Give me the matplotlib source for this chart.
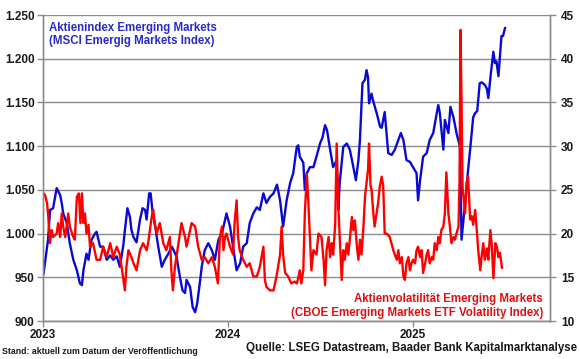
import matplotlib
matplotlib.use("Agg")
import matplotlib.pyplot as plt
import matplotlib.dates as mdates
from matplotlib.ticker import FuncFormatter, MultipleLocator
import pandas as pd

plt.rcParams['font.family'] = ['Liberation Sans', 'DejaVu Sans']

# --- data: MSCI Emerging Markets index (left axis) ---
msci_dates = [
    "2023-01-02","2023-01-09","2023-01-11","2023-01-15","2023-01-21","2023-01-28","2023-02-04","2023-02-07",
    "2023-02-10","2023-02-17","2023-02-23","2023-03-02","2023-03-09","2023-03-15","2023-03-19","2023-03-22",
    "2023-03-28","2023-04-01","2023-04-07","2023-04-14","2023-04-17","2023-04-24","2023-04-30","2023-05-07",
    "2023-05-14","2023-05-20","2023-05-27","2023-06-02","2023-06-09","2023-06-12","2023-06-17","2023-06-22",
    "2023-06-25","2023-06-29","2023-07-05","2023-07-12","2023-07-17","2023-07-22","2023-07-25","2023-07-30",
    "2023-08-02","2023-08-06","2023-08-11","2023-08-17","2023-08-24","2023-08-30","2023-09-06","2023-09-13",
    "2023-09-22","2023-09-29","2023-10-04","2023-10-09","2023-10-12","2023-10-19","2023-10-24","2023-10-29",
    "2023-11-02","2023-11-08","2023-11-11","2023-11-17","2023-11-24","2023-12-01","2023-12-07","2023-12-14",
    "2023-12-21","2023-12-30","2024-01-06","2024-01-12","2024-01-19","2024-01-26","2024-02-01","2024-02-08",
    "2024-02-14","2024-02-21","2024-02-28","2024-03-05","2024-03-12","2024-03-18","2024-03-25","2024-04-01",
    "2024-04-08","2024-04-14","2024-04-20","2024-04-27","2024-05-04","2024-05-10","2024-05-17","2024-05-20",
    "2024-05-23","2024-05-30","2024-06-02","2024-06-06","2024-06-12","2024-06-19","2024-06-25","2024-07-02",
    "2024-07-07","2024-07-12","2024-07-16","2024-07-22","2024-07-28","2024-08-04","2024-08-07","2024-08-10",
    "2024-08-17","2024-08-24","2024-08-30","2024-09-06","2024-09-11","2024-09-16","2024-09-19","2024-09-24",
    "2024-09-29","2024-10-02","2024-10-05","2024-10-07","2024-10-12","2024-10-15","2024-10-22","2024-10-29",
    "2024-11-01","2024-11-07","2024-11-14","2024-11-21","2024-11-27","2024-12-04","2024-12-09","2024-12-14",
    "2024-12-20","2024-12-27","2025-01-02","2025-01-09","2025-01-12","2025-01-16","2025-01-22","2025-01-29",
    "2025-02-04","2025-02-11","2025-02-18","2025-02-21","2025-02-24","2025-03-03","2025-03-06","2025-03-13",
    "2025-03-17","2025-03-23","2025-03-29","2025-04-05","2025-04-08","2025-04-15","2025-04-21","2025-04-25",
    "2025-05-01","2025-05-05","2025-05-09","2025-05-14","2025-05-18","2025-05-24","2025-05-28","2025-05-31",
    "2025-06-05","2025-06-10","2025-06-13","2025-06-16","2025-06-20","2025-06-23","2025-06-26","2025-06-29",
    "2025-07-03",
]
msci_values = [
    954, 985, 993, 1027, 1029, 1052, 1044, 1035,
    1023, 1012, 989, 970, 958, 943, 941, 958,
    977, 970, 993, 1000, 1002, 985, 985, 970,
    975, 970, 974, 962, 987, 1004, 1029, 1019,
    1004, 996, 990, 1016, 1029, 1027, 1016, 1046,
    1046, 1023, 1008, 985, 962, 970, 977, 985,
    974, 950, 935, 932, 947, 939, 916, 910,
    920, 947, 962, 981, 989, 981, 970, 993,
    1000, 1023, 1008, 985, 958, 966, 985, 989,
    1012, 1023, 1030, 1027, 1046, 1035, 1042, 1046,
    1056, 1038, 1008, 1038, 1058, 1069, 1099, 1101,
    1088, 1081, 1050, 1069, 1076, 1076, 1088, 1103,
    1110, 1124, 1118, 1096, 1076, 1084, 1027, 1058,
    1099, 1103, 1096, 1076, 1061, 1084, 1107, 1172,
    1176, 1187, 1179, 1149, 1160, 1152, 1138, 1122,
    1121, 1139, 1092, 1090, 1096, 1107, 1115, 1107,
    1084, 1082, 1076, 1069, 1038, 1061, 1088, 1092,
    1107, 1115, 1138, 1147, 1138, 1096, 1130, 1115,
    1145, 1133, 1115, 1099, 993, 1035, 1073, 1096,
    1133, 1138, 1140, 1172, 1173, 1170, 1166, 1155,
    1183, 1208, 1195, 1197, 1180, 1203, 1226, 1226,
    1235,
]

# --- data: CBOE Emerging Markets ETF Volatility Index (right axis) ---
vol_dates = [
    "2023-01-02","2023-01-05","2023-01-09","2023-01-11","2023-01-15","2023-01-18","2023-01-21","2023-01-28",
    "2023-01-31","2023-02-04","2023-02-07","2023-02-10","2023-02-14","2023-02-20","2023-02-23","2023-03-02",
    "2023-03-05","2023-03-09","2023-03-13","2023-03-16","2023-03-19","2023-03-22","2023-03-25","2023-03-28",
    "2023-04-01","2023-04-04","2023-04-10","2023-04-17","2023-04-24","2023-04-30","2023-05-07","2023-05-14",
    "2023-05-20","2023-05-27","2023-06-02","2023-06-09","2023-06-12","2023-06-15","2023-06-19","2023-06-25",
    "2023-06-29","2023-07-05","2023-07-12","2023-07-18","2023-07-25","2023-07-28","2023-08-04","2023-08-07",
    "2023-08-10","2023-08-14","2023-08-20","2023-08-27","2023-09-02","2023-09-09","2023-09-12","2023-09-15",
    "2023-09-19","2023-09-25","2023-10-02","2023-10-09","2023-10-12","2023-10-15","2023-10-22","2023-10-29",
    "2023-11-04","2023-11-11","2023-11-17","2023-11-24","2023-12-01","2023-12-07","2023-12-13","2023-12-17",
    "2023-12-21","2023-12-24","2023-12-27","2023-12-30","2024-01-06","2024-01-12","2024-01-15","2024-01-19",
    "2024-01-22","2024-01-25","2024-02-01","2024-02-08","2024-02-14","2024-02-21","2024-02-28","2024-03-05",
    "2024-03-12","2024-03-15","2024-03-18","2024-03-25","2024-04-01","2024-04-07","2024-04-10","2024-04-14",
    "2024-04-17","2024-04-20","2024-04-24","2024-04-30","2024-05-06","2024-05-13","2024-05-17","2024-05-20",
    "2024-05-23","2024-05-26","2024-05-30","2024-06-02","2024-06-06","2024-06-09","2024-06-12","2024-06-15",
    "2024-06-19","2024-06-25","2024-06-29","2024-07-05","2024-07-09","2024-07-12","2024-07-15","2024-07-19",
    "2024-07-22","2024-07-25","2024-07-28","2024-08-01","2024-08-04","2024-08-07","2024-08-10","2024-08-14",
    "2024-08-17","2024-08-20","2024-08-24","2024-08-27","2024-08-30","2024-09-03","2024-09-06","2024-09-09",
    "2024-09-13","2024-09-16","2024-09-19","2024-09-22","2024-09-26","2024-09-29","2024-10-02","2024-10-05",
    "2024-10-07","2024-10-10","2024-10-12","2024-10-15","2024-10-18","2024-10-22","2024-10-25","2024-10-28",
    "2024-11-01","2024-11-04","2024-11-07","2024-11-11","2024-11-17","2024-11-24","2024-11-27","2024-12-01",
    "2024-12-04","2024-12-07","2024-12-11","2024-12-14","2024-12-17","2024-12-20","2024-12-24","2024-12-27",
    "2024-12-30","2025-01-02","2025-01-06","2025-01-09","2025-01-12","2025-01-16","2025-01-19","2025-01-22",
    "2025-01-26","2025-01-29","2025-02-01","2025-02-04","2025-02-08","2025-02-11","2025-02-14","2025-02-18",
    "2025-02-21","2025-02-24","2025-02-27","2025-03-03","2025-03-06","2025-03-09","2025-03-13","2025-03-16",
    "2025-03-19","2025-03-23","2025-03-26","2025-03-29","2025-04-02","2025-04-04","2025-04-06","2025-04-08",
    "2025-04-10","2025-04-15","2025-04-18","2025-04-21","2025-04-25","2025-04-28","2025-05-01","2025-05-05",
    "2025-05-08","2025-05-11","2025-05-15","2025-05-18","2025-05-21","2025-05-24","2025-05-28","2025-05-31",
    "2025-06-04","2025-06-07","2025-06-10","2025-06-14","2025-06-17","2025-06-20","2025-06-23","2025-06-27",
]
vol_values = [
    24.6, 24.4, 23.5, 22.3, 18.9, 20.4, 19.6, 20.0,
    21.2, 19.6, 22.3, 20.8, 19.6, 22.3, 20.8, 19.6,
    19.3, 24.2, 24.6, 21.2, 24.6, 21.2, 22.3, 20.0,
    21.0, 18.5, 18.9, 17.0, 17.0, 18.5, 17.3, 18.9,
    17.3, 18.5, 17.6, 14.7, 13.5, 16.2, 18.1, 17.3,
    16.6, 15.8, 18.1, 18.9, 18.1, 18.9, 21.9, 22.7,
    21.2, 20.0, 21.2, 18.9, 18.1, 19.6, 15.8, 13.5,
    16.2, 18.5, 21.2, 19.6, 18.5, 19.3, 21.2, 20.8,
    18.5, 17.0, 17.3, 16.6, 17.3, 16.2, 14.3, 19.6,
    20.8, 18.1, 19.6, 20.0, 18.5, 17.6, 21.2, 23.8,
    19.6, 18.1, 17.0, 16.2, 16.6, 15.1, 15.1, 16.2,
    18.5, 14.7, 13.9, 13.5, 13.5, 15.1, 16.2, 17.6,
    20.8, 17.6, 15.5, 15.1, 14.3, 14.5, 14.3, 14.9,
    15.8, 14.3, 15.8, 22.3, 26.8, 23.5, 19.6, 15.8,
    18.1, 17.6, 20.0, 19.6, 17.0, 14.1, 18.1, 19.6,
    17.3, 18.9, 17.6, 21.0, 30.3, 23.5, 19.6, 14.7,
    18.1, 17.0, 18.9, 17.6, 19.3, 21.9, 20.4, 21.5,
    18.5, 17.0, 19.3, 17.6, 20.8, 24.2, 25.8, 27.3,
    30.3, 25.5, 25.0, 22.7, 20.8, 22.3, 23.5, 25.3,
    26.5, 25.5, 20.0, 20.0, 19.6, 18.1, 17.6, 17.0,
    18.1, 16.6, 17.3, 15.1, 14.7, 16.6, 17.3, 15.8,
    16.6, 17.0, 16.6, 18.1, 18.5, 17.3, 18.1, 15.5,
    16.6, 17.6, 18.1, 16.6, 17.3, 17.0, 18.9, 18.1,
    19.6, 18.9, 20.4, 20.8, 22.3, 27.0, 22.3, 20.8,
    18.9, 19.6, 19.3, 20.0, 20.8, 26.0, 43.3, 35.0,
    25.3, 22.3, 25.8, 26.5, 21.6, 22.0, 21.0, 22.7,
    20.5, 18.1, 15.8, 17.5, 18.9, 17.0, 18.3, 17.0,
    20.4, 18.5, 14.9, 18.9, 18.5, 17.3, 17.8, 16.1,
]

x_start, x_end = "2023-01-01", "2025-09-30"
left_lim = (900, 1250)
right_lim = (10, 45)

BLUE_LINE = "#0a0ad2"
BLUE_TEXT = "#2a2ac8"
RED_LINE = "#ff0000"
RED_TEXT = "#e01010"
GRID = "#8c8c8c"
TXT = "#1a1a1a"

fig = plt.figure(figsize=(5.8, 3.59), dpi=100)
ax = fig.add_axes([43/580, 1-321/359, (550-43)/580, 306/359])
ax2 = ax.twinx()

ax.plot(pd.to_datetime(msci_dates), msci_values, color=BLUE_LINE, lw=1.7, solid_joinstyle='round')
ax2.plot(pd.to_datetime(vol_dates), vol_values, color=RED_LINE, lw=1.7, solid_joinstyle='round')

ax.set_xlim(pd.Timestamp(x_start), pd.Timestamp(x_end))
ax.set_ylim(*left_lim)
ax2.set_ylim(*right_lim)
ax.yaxis.set_major_locator(MultipleLocator(50))
ax2.yaxis.set_major_locator(MultipleLocator(5))
ax.yaxis.set_major_formatter(FuncFormatter(lambda v, p: f"{v:,.0f}".replace(",", ".")))
ax2.yaxis.set_major_formatter(FuncFormatter(lambda v, p: f"{v:.0f}"))
ax.xaxis.set_major_locator(mdates.YearLocator())
ax.xaxis.set_major_formatter(mdates.DateFormatter("%Y"))

ax.grid(axis='y', color=GRID, lw=1.0)
ax.set_axisbelow(True)
for a in (ax, ax2):
    for s in ('top',):
        a.spines[s].set_visible(False)
    for s in ('left', 'right', 'bottom'):
        a.spines[s].set_color(GRID)
        a.spines[s].set_linewidth(1.0)
ax.tick_params(axis='y', length=4, width=1, color=GRID, labelsize=8.5, labelcolor=TXT, pad=2)
ax2.tick_params(axis='y', length=4, width=1, color=GRID, labelsize=8.5, labelcolor=TXT, pad=4)
ax.tick_params(axis='x', length=4, width=1, color=GRID, labelsize=8.5, labelcolor=TXT, pad=2)
for lab in ax.get_yticklabels() + ax2.get_yticklabels() + ax.get_xticklabels():
    lab.set_fontweight('bold')

fig.text(49/580, 1-28/359, "Aktienindex Emerging Markets", color=BLUE_TEXT, fontsize=8.3,
         fontweight='bold', va='center', ha='left')
fig.text(49/580, 1-41/359, "(MSCI Emergig Markets Index)", color=BLUE_TEXT, fontsize=8.3,
         fontweight='bold', va='center', ha='left')
fig.text(543/580, 1-299/359, "Aktienvolatilität Emerging Markets", color=RED_TEXT, fontsize=8.3,
         fontweight='bold', va='center', ha='right')
fig.text(543/580, 1-313/359, "(CBOE Emerging Markets ETF Volatility Index)", color=RED_TEXT, fontsize=8.3,
         fontweight='bold', va='center', ha='right')
fig.text(2/580, 1-352/359, "Stand: aktuell zum Datum der Veröffentlichung", color=TXT, fontsize=6.3,
         fontweight='bold', va='center', ha='left')
fig.text(577/580, 1-348/359, "Quelle: LSEG Datastream, Baader Bank Kapitalmarktanalyse", color=TXT,
         fontsize=8.3, fontweight='bold', va='center', ha='right')

fig.savefig("out.png", dpi=100)
